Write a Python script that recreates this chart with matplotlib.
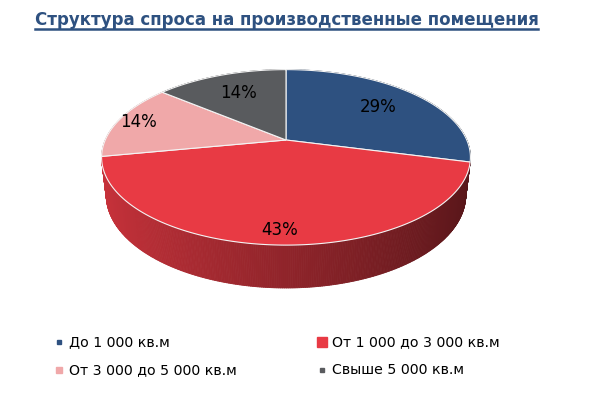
import numpy as np
import matplotlib
matplotlib.use("Agg")
import matplotlib.pyplot as plt
from matplotlib.collections import PolyCollection
from matplotlib.colors import to_rgb

# data
labels = ["До 1 000 кв.м", "От 1 000 до 3 000 кв.м",
          "От 3 000 до 5 000 кв.м", "Свыше 5 000 кв.м"]
shares = [29, 43, 14, 14]
colors = ["#2e5180", "#e83a44", "#f0a8a9", "#595b5e"]
title = "Структура спроса на производственные помещения"

# style: label radius per slice, legend marker sizes
label_r = [0.7, 0.88, 0.88, 0.7]
marker_px = [5, 10, 6, 5]

# fake 3d projection (tilted disc seen in perspective)
elev = np.radians(27.8)
D = 4.47
F = 808
H = 0.238

def proj(x, yb, z):
    v = yb * np.sin(elev) + z * np.cos(elev)
    w = D + yb * np.cos(elev) - z * np.sin(elev)
    return F * x / w, F * v / w

fig = plt.figure(figsize=(6, 3.99), dpi=100)
ax = fig.add_axes([0, 0, 1, 1])
ax.set_xlim(-286, 314)
ax.set_ylim(-259, 140)
ax.axis("off")

fr = np.array(shares) / sum(shares)
edges = 90 - 360 * np.concatenate([[0], np.cumsum(fr)])

# side wall, drawn back to front
polys, fcs, depth = [], [], []
for i in range(len(shares)):
    ts = np.radians(np.arange(edges[i], edges[i + 1] - 0.5, -0.5))
    ts = np.append(ts, np.radians(edges[i + 1]))
    base = np.array(to_rgb(colors[i]))
    for a, b in zip(ts[:-1], ts[1:]):
        xa, ya = np.cos(a), np.sin(a)
        xb, yb = np.cos(b), np.sin(b)
        p = [proj(xa, ya, 0), proj(xb, yb, 0), proj(xb, yb, -H), proj(xa, ya, -H)]
        polys.append(p)
        m = 0.5 * (a + b)
        k = 0.62 - 0.25 * np.cos(m)
        fcs.append(np.clip(base * k, 0, 1))
        depth.append(np.sin(m))
order = np.argsort(depth)[::-1]
pc = PolyCollection([polys[j] for j in order], facecolors=[fcs[j] for j in order],
                    edgecolors=[fcs[j] for j in order], linewidths=0.6)
ax.add_collection(pc)

# top surface
for i in range(len(shares)):
    ts = np.radians(np.linspace(edges[i], edges[i + 1], 200))
    rim = [proj(np.cos(t), np.sin(t), 0) for t in ts]
    ax.fill(*zip(*([(0, 0)] + rim)), color=colors[i], ec="#f4f4f4", lw=0.8, zorder=3)
    mid = np.radians(0.5 * (edges[i] + edges[i + 1]))
    r = label_r[i]
    lx, ly = proj(r * np.cos(mid), r * np.sin(mid), 0)
    ax.text(lx, ly, f"{shares[i]}%", ha="center", va="center",
            fontsize=12, color="black", zorder=5)

# legend, two columns
for i, lab in enumerate(labels):
    col, row = [(0, 0), (1, 0), (0, 1), (1, 1)][i]
    x0 = -227 + col * 263
    y0 = -202 - row * 28
    ax.plot([x0], [y0], marker="s", ms=marker_px[i] * 0.72, color=colors[i],
            mec=colors[i], ls="none")
    ax.text(x0 + 10, y0, lab, ha="left", va="center", fontsize=10.2)

# title with underline
t = fig.text(0.4775, 1 - 20 / 399, title, ha="center", va="center",
             fontsize=12, fontweight="bold", color="#2e5180")
fig.canvas.draw()
bb = t.get_window_extent().transformed(fig.transFigure.inverted())
fig.add_artist(plt.Line2D([bb.x0, bb.x1], [bb.y0 + 0.001, bb.y0 + 0.001],
                          transform=fig.transFigure, color="#2e5180", lw=1.8))

fig.savefig("out.png", dpi=100, facecolor="white")
